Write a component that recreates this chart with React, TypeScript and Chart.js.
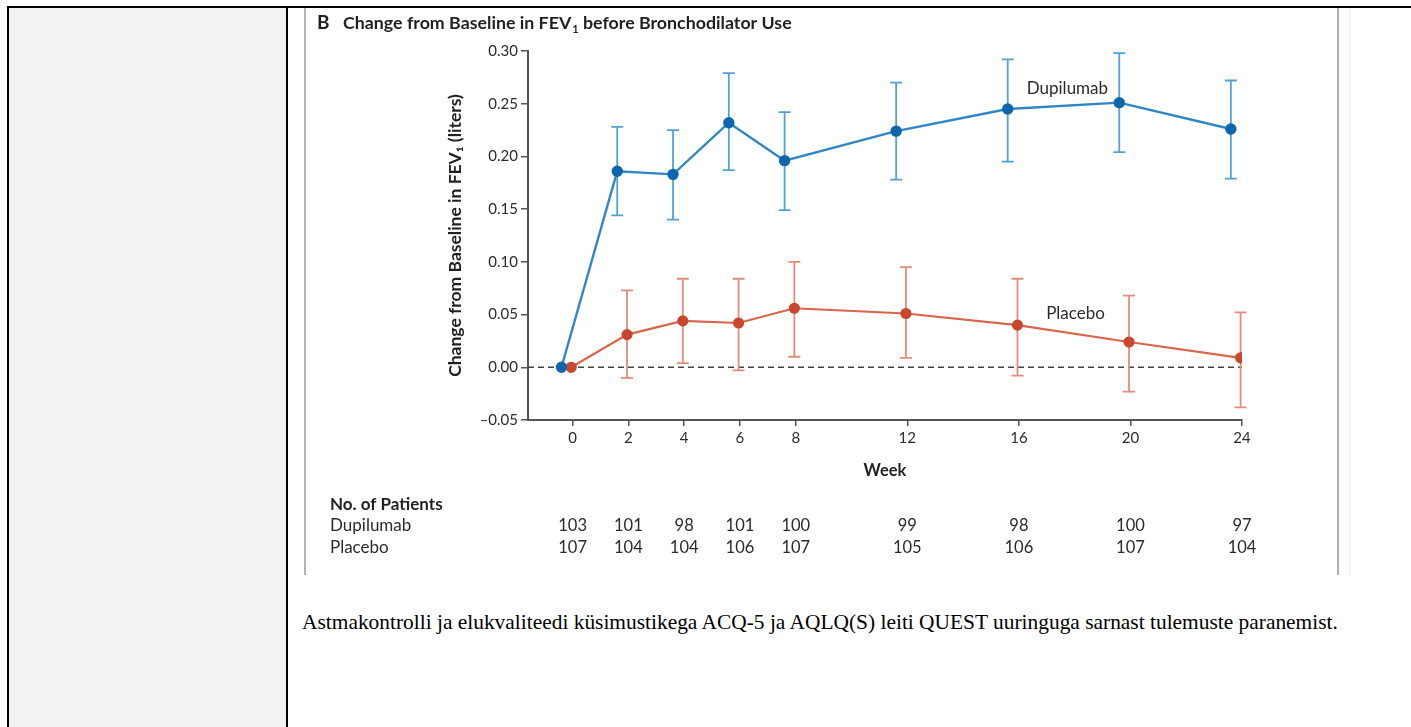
import React, { useEffect, useRef } from "react";
import { Chart, registerables } from "chart.js";

Chart.register(...registerables);

// ---- Data ----
const weeks = [0, 2, 4, 6, 8, 12, 16, 20, 24];
const dupilumabMean = [0, 0.186, 0.183, 0.232, 0.196, 0.224, 0.245, 0.251, 0.226];
const dupilumabUpper = [0, 0.228, 0.225, 0.279, 0.242, 0.27, 0.292, 0.298, 0.272];
const dupilumabLower = [0, 0.144, 0.14, 0.187, 0.149, 0.178, 0.195, 0.204, 0.179];
const placeboMean = [0, 0.031, 0.044, 0.042, 0.056, 0.051, 0.04, 0.024, 0.009];
const placeboUpper = [0, 0.073, 0.084, 0.084, 0.1, 0.095, 0.084, 0.068, 0.052];
const placeboLower = [0, -0.01, 0.004, -0.003, 0.01, 0.009, -0.008, -0.023, -0.038];
const dupilumabPatients = [103, 101, 98, 101, 100, 99, 98, 100, 97];
const placeboPatients = [107, 104, 104, 106, 107, 105, 106, 107, 104];
const yTickValues = [-0.05, 0, 0.05, 0.1, 0.15, 0.2, 0.25, 0.3];

const seriesNames = ["Dupilumab", "Placebo"];
const chartTitle = "Change from Baseline in FEV";
const chartTitleSub = "1";
const chartTitleRest = " before Bronchodilator Use";
const panelLetter = "B";
const yAxisTitle = "Change from Baseline in FEV\u2081 (liters)";
const xAxisTitle = "Week";
const patientsHeader = "No. of Patients";
const bottomText =
  "Astmakontrolli ja elukvaliteedi küsimustikega ACQ-5 ja AQLQ(S) leiti QUEST uuringuga sarnast tulemuste paranemist.";

// ---- Styles ----
const FONT = "Lato, 'Open Sans', sans-serif";
const TEXT = "#2b2b2b";
const AXIS = "#555555";
const BLUE_LINE = "#2f86c6";
const BLUE_POINT = "#0e66ae";
const BLUE_ERR = "#4fa2d6";
const RED_LINE = "#d8654c";
const RED_POINT = "#c8472d";
const RED_ERR = "#e28c79";
const DODGE = [-0.4, -0.05];

const W = 1036;
const H = 567;

const overlayPlugin = {
  id: "overlay",
  beforeDatasetsDraw(chart: any) {
    const ctx = chart.ctx;
    const xs = chart.scales.x;
    const ys = chart.scales.y;
    const area = chart.chartArea;
    // zero reference line
    ctx.save();
    ctx.strokeStyle = "#444";
    ctx.lineWidth = 1.5;
    ctx.setLineDash([6, 4]);
    ctx.beginPath();
    const y0 = ys.getPixelForValue(0);
    ctx.moveTo(area.left, y0);
    ctx.lineTo(area.right, y0);
    ctx.stroke();
    ctx.restore();
    // error bars
    chart.data.datasets.forEach((ds: any) => {
      ctx.save();
      ctx.strokeStyle = ds.errColor;
      ctx.lineWidth = 1.8;
      ds.data.forEach((p: any, i: number) => {
        const up = ds.errUpper[i];
        const lo = ds.errLower[i];
        if (up === lo) return;
        const x = xs.getPixelForValue(p.x);
        const yu = ys.getPixelForValue(up);
        const yl = ys.getPixelForValue(lo);
        ctx.beginPath();
        ctx.moveTo(x, yu);
        ctx.lineTo(x, yl);
        ctx.moveTo(x - 6, yu);
        ctx.lineTo(x + 6, yu);
        ctx.moveTo(x - 6, yl);
        ctx.lineTo(x + 6, yl);
        ctx.stroke();
      });
      ctx.restore();
    });
  },
  afterDraw(chart: any) {
    const ctx = chart.ctx;
    const xs = chart.scales.x;
    const ys = chart.scales.y;
    ctx.save();
    ctx.fillStyle = "#231f20";
    ctx.textBaseline = "alphabetic";
    // panel title
    ctx.font = `bold 19px ${FONT}`;
    ctx.textAlign = "left";
    ctx.fillText(panelLetter, 15, 21);
    ctx.font = `bold 17.8px ${FONT}`;
    let tx = 41;
    ctx.fillText(chartTitle, tx, 21);
    tx += ctx.measureText(chartTitle).width;
    ctx.font = `bold 11px ${FONT}`;
    ctx.fillText(chartTitleSub, tx + 1, 25);
    tx += ctx.measureText(chartTitleSub).width + 1;
    ctx.font = `bold 17.8px ${FONT}`;
    ctx.fillText(chartTitleRest, tx, 21);

    // series labels
    ctx.fillStyle = TEXT;
    ctx.font = `17px ${FONT}`;
    ctx.textAlign = "center";
    ctx.textBaseline = "middle";
    ctx.fillText(seriesNames[0], xs.getPixelForValue(17.74), ys.getPixelForValue(0.264));
    ctx.fillText(seriesNames[1], xs.getPixelForValue(18.03), ys.getPixelForValue(0.0506));

    // patients table
    ctx.fillStyle = "#231f20";
    ctx.textAlign = "left";
    ctx.font = `bold 17px ${FONT}`;
    ctx.fillText(patientsHeader, 28, 497);
    ctx.fillStyle = TEXT;
    ctx.font = `17px ${FONT}`;
    ctx.fillText(seriesNames[0], 28, 518);
    ctx.fillText(seriesNames[1], 28, 540);
    ctx.font = `16.5px ${FONT}`;
    ctx.textAlign = "center";
    weeks.forEach((w, i) => {
      const x = xs.getPixelForValue(w);
      ctx.fillText(String(dupilumabPatients[i]), x, 518);
      ctx.fillText(String(placeboPatients[i]), x, 540);
    });
    ctx.restore();
  },
};

function ChartCanvas() {
  const ref = useRef<HTMLCanvasElement | null>(null);
  useEffect(() => {
    if (!ref.current) return;
    const chart = new Chart(ref.current, {
      type: "line",
      data: {
        datasets: [
          {
            label: seriesNames[0],
            data: weeks.map((w, i) => ({ x: w + DODGE[0], y: dupilumabMean[i] })),
            borderColor: BLUE_LINE,
            backgroundColor: BLUE_POINT,
            pointBackgroundColor: BLUE_POINT,
            pointBorderColor: BLUE_POINT,
            pointRadius: 4.5,
            borderWidth: 2.4,
            tension: 0,
            errUpper: dupilumabUpper,
            errLower: dupilumabLower,
            errColor: BLUE_ERR,
          } as any,
          {
            label: seriesNames[1],
            data: weeks.map((w, i) => ({ x: w + DODGE[1], y: placeboMean[i] })),
            borderColor: RED_LINE,
            backgroundColor: RED_POINT,
            pointBackgroundColor: RED_POINT,
            pointBorderColor: RED_POINT,
            pointRadius: 4.5,
            borderWidth: 2.2,
            tension: 0,
            errUpper: placeboUpper,
            errLower: placeboLower,
            errColor: RED_ERR,
          } as any,
        ],
      },
      options: {
        animation: false,
        responsive: false,
        events: [],
        layout: { padding: { left: 0, right: 96, top: 43, bottom: 75 } },
        plugins: { legend: { display: false }, tooltip: { enabled: false }, title: { display: false } },
        scales: {
          x: {
            type: "linear",
            min: -1.6,
            max: 24,
            afterBuildTicks: (scale: any) => {
              scale.ticks = weeks.map((v) => ({ value: v }));
            },
            afterFit: (scale: any) => {
              scale.height = 80;
            },
            grid: { drawOnChartArea: false, drawTicks: true, tickLength: 6, color: AXIS, lineWidth: 1.5 },
            border: { display: true, color: AXIS, width: 2 },
            ticks: {
              autoSkip: false,
              maxRotation: 0,
              padding: 3,
              color: TEXT,
              font: { family: FONT, size: 15 },
              callback: (v: any) => String(v),
            },
            title: {
              display: true,
              text: xAxisTitle,
              color: "#231f20",
              font: { family: FONT, size: 16.5, weight: "bold" },
              padding: { top: 0, bottom: 19.1 },
            },
          },
          y: {
            type: "linear",
            min: -0.05,
            max: 0.3,
            afterBuildTicks: (scale: any) => {
              scale.ticks = yTickValues.map((v) => ({ value: v }));
            },
            afterFit: (scale: any) => {
              scale.width = 226;
            },
            grid: { drawOnChartArea: false, drawTicks: true, tickLength: 7, color: AXIS, lineWidth: 1.5 },
            border: { display: true, color: AXIS, width: 2 },
            ticks: {
              padding: 3,
              color: TEXT,
              font: { family: FONT, size: 15 },
              callback: (v: any) => (v < 0 ? "\u2013" + Math.abs(v).toFixed(2) : Number(v).toFixed(2)),
            },
            title: {
              display: true,
              text: yAxisTitle,
              color: "#231f20",
              font: { family: FONT, size: 17.5, weight: "bold" },
              padding: { top: 142.5, bottom: 0 },
            },
          },
        },
      } as any,
      plugins: [overlayPlugin],
    });
    return () => chart.destroy();
  }, []);
  return (
    <canvas
      ref={ref}
      width={W}
      height={H}
      style={{ position: "absolute", left: 302, top: 8, width: W, height: H }}
    />
  );
}

export default function App() {
  const abs = (l: number, t: number, w: number, h: number, bg: string): React.CSSProperties => ({
    position: "absolute",
    left: l,
    top: t,
    width: w,
    height: h,
    background: bg,
  });
  return (
    <div style={{ position: "absolute", left: 0, top: 0, width: 1411, height: 727, overflow: "hidden", background: "#fff" }}>
      <div style={abs(9, 8, 278, 719, "#f2f2f2")} />
      <div style={abs(7, 6, 1404, 2, "#000")} />
      <div style={abs(7, 6, 2, 721, "#000")} />
      <div style={abs(286, 6, 2, 721, "#000")} />
      <div style={abs(304, 8, 2, 567, "#b4b4b4")} />
      <div style={abs(1337, 8, 2, 567, "#b0b0b0")} />
      <div style={abs(1349, 8, 1, 567, "#ececec")} />
      <ChartCanvas />
      <div
        style={{
          position: "absolute",
          left: 302,
          top: 610,
          whiteSpace: "nowrap",
          fontFamily: "'Liberation Serif', 'Times New Roman', serif",
          fontSize: "21.42px",
          color: "#000",
        }}
      >
        {bottomText}
      </div>
    </div>
  );
}
